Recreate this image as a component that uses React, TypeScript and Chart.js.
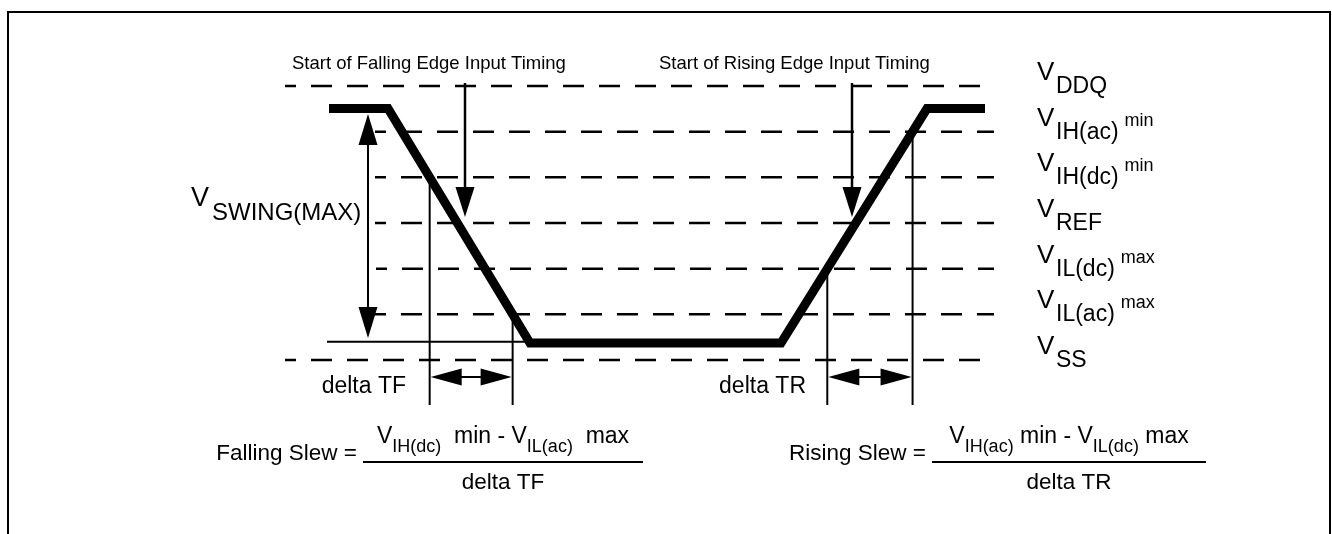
import React, { useEffect, useRef } from "react";
import { Chart, registerables } from "chart.js";

Chart.register(...registerables);

const FONT = '"Liberation Sans", Arial, Helvetica, sans-serif';

// ---------------- data (x: time units, y: voltage level index) ----------------
const levelValues = [6, 5, 4, 3, 2, 1, 0];
const levelMain = ["V", "V", "V", "V", "V", "V", "V"];
const levelSub = ["DDQ", "IH(ac)", "IH(dc)", "REF", "IL(dc)", "IL(ac)", "SS"];
const levelSuffix = ["", "min", "min", "", "max", "max", ""];
const levelStartTime = [28.5, 37.5, 37.5, 37.5, 37.6, 37.5, 28.5];
const levelEndTime = [99.4, 99.4, 99.4, 99.4, 99.4, 99.4, 99.4];

const signalTime = [32.9, 38.8, 53.0, 78.1, 92.7, 98.5];
const signalLevel = [5.507, 5.507, 0.372, 0.372, 5.507, 5.507];

const swingTime = 36.8;
const swingTop = 5.387;
const swingBottom = 0.482;
const swingRefLevel = 0.4;
const swingRefStart = 32.7;

const inputTimingTimes = [46.5, 85.2];
const inputTimingTop = 6.066;
const inputTimingTip = 3.131;
const inputTimingLabels = ["Start of Falling Edge Input Timing", "Start of Rising Edge Input Timing"];
const inputTimingLabelTime = [29.2, 65.9];
const inputTimingLabelLevel = 6.372;

const timingBottom = -0.985;
const deltaArrowLevel = -0.372;
const deltaLabels = ["delta TF", "delta TR"];
const deltaLabelRight = [40.6, 80.6];
const deltaLabelLevel = -0.723;

const formulaLabels = ["Falling Slew =", "Rising Slew ="];
const formulaLabelRight = [35.7, 92.6];
const formulaLineStart = [36.3, 93.2];
const formulaLineEnd = [64.3, 120.6];
const formulaLineLevel = -2.234;
const formulaNumerators = [
  [["V", 0], ["IH(dc)", 1], ["  min - V", 0], ["IL(ac)", 1], ["  max", 0]],
  [["V", 0], ["IH(ac)", 1], [" min - V", 0], ["IL(dc)", 1], [" max", 0]],
] as [string, number][][];
const formulaDenominators = ["delta TF", "delta TR"];

function crossTime(i0: number, level: number) {
  const t0 = signalTime[i0], t1 = signalTime[i0 + 1];
  const v0 = signalLevel[i0], v1 = signalLevel[i0 + 1];
  return t0 + ((level - v0) / (v1 - v0)) * (t1 - t0);
}

function head(ctx: CanvasRenderingContext2D, tx: number, ty: number, dx: number, dy: number, len: number, wid: number) {
  const bx = tx - dx * len, by = ty - dy * len;
  const px = -dy, py = dx;
  ctx.beginPath();
  ctx.moveTo(tx, ty);
  ctx.lineTo(bx + (px * wid) / 2, by + (py * wid) / 2);
  ctx.lineTo(bx - (px * wid) / 2, by - (py * wid) / 2);
  ctx.closePath();
  ctx.fill();
}

function seg(ctx: CanvasRenderingContext2D, x1: number, y1: number, x2: number, y2: number, w: number) {
  ctx.lineWidth = w;
  ctx.beginPath();
  ctx.moveTo(x1, y1);
  ctx.lineTo(x2, y2);
  ctx.stroke();
}

const annotations = {
  id: "annotations",
  afterDatasetsDraw(chart: any) {
    const ctx: CanvasRenderingContext2D = chart.ctx;
    const X = (t: number) => chart.scales.x.getPixelForValue(t);
    const Y = (v: number) => chart.scales.y.getPixelForValue(v);
    ctx.save();
    ctx.fillStyle = "#000";
    ctx.strokeStyle = "#000";
    ctx.lineCap = "butt";
    ctx.textBaseline = "alphabetic";

    // frame
    ctx.lineWidth = 2;
    ctx.beginPath();
    ctx.moveTo(8, chart.height);
    ctx.lineTo(8, 12);
    ctx.lineTo(chart.width - 2, 12);
    ctx.lineTo(chart.width - 2, chart.height);
    ctx.stroke();

    // VSWING arrow
    const sx = X(swingTime);
    seg(ctx, sx, Y(swingTop) + 20, sx, Y(swingBottom) - 20, 2);
    head(ctx, sx, Y(swingTop), 0, -1, 31, 19);
    head(ctx, sx, Y(swingBottom), 0, 1, 31, 19);
    seg(ctx, X(swingRefStart), Y(swingRefLevel), X(signalTime[2]), Y(swingRefLevel), 2);

    // input timing arrows
    inputTimingTimes.forEach((t) => {
      const x = X(t);
      seg(ctx, x, Y(inputTimingTop), x, Y(inputTimingTip) - 20, 2.5);
      head(ctx, x, Y(inputTimingTip), 0, 1, 30, 19);
    });

    // timing verticals + delta arrows
    const pairs = [
      [[1, 4], [1, 1]],
      [[3, 2], [3, 5]],
    ];
    pairs.forEach((p) => {
      const xa = X(crossTime(p[0][0], p[0][1]));
      const xb = X(crossTime(p[1][0], p[1][1]));
      seg(ctx, xa, Y(p[0][1]), xa, Y(timingBottom), 2);
      seg(ctx, xb, Y(p[1][1]), xb, Y(timingBottom), 2);
      const ay = Y(deltaArrowLevel);
      seg(ctx, xa + 20, ay, xb - 20, ay, 2);
      head(ctx, xa + 1, ay, -1, 0, 31, 17);
      head(ctx, xb - 1, ay, 1, 0, 31, 17);
    });

    // input timing labels
    ctx.font = `18.5px ${FONT}`;
    ctx.textAlign = "left";
    inputTimingLabels.forEach((s, i) => ctx.fillText(s, X(inputTimingLabelTime[i]), Y(inputTimingLabelLevel)));

    // level labels
    const lx = X(103.7);
    levelValues.forEach((v, i) => {
      const y = Y(v);
      ctx.textAlign = "left";
      ctx.font = `26px ${FONT}`;
      ctx.fillText(levelMain[i], lx, y - 6);
      const subX = lx + 19;
      ctx.font = `23px ${FONT}`;
      ctx.fillText(levelSub[i], subX, y + 7);
      const subEnd = subX + ctx.measureText(levelSub[i]).width;
      if (levelSuffix[i]) {
        ctx.font = `18px ${FONT}`;
        ctx.fillText(levelSuffix[i], subEnd + 6, y - 6);
      }
    });

    // VSWING label
    ctx.font = `27px ${FONT}`;
    ctx.fillText("V", X(19.1), Y(3.372));
    ctx.font = `24px ${FONT}`;
    ctx.fillText("SWING(MAX)", X(21.2), Y(3.066));

    // delta labels
    ctx.font = `23px ${FONT}`;
    ctx.textAlign = "right";
    deltaLabels.forEach((s, i) => ctx.fillText(s, X(deltaLabelRight[i]), Y(deltaLabelLevel)));

    // formulas
    formulaLabels.forEach((s, i) => {
      const fy = Y(formulaLineLevel);
      const x0 = X(formulaLineStart[i]);
      const x1 = X(formulaLineEnd[i]);
      ctx.font = `22.5px ${FONT}`;
      ctx.textAlign = "right";
      ctx.fillText(s, X(formulaLabelRight[i]), fy - 2);
      seg(ctx, x0, fy, x1, fy, 2);
      // numerator
      const parts = formulaNumerators[i];
      let w = 0;
      parts.forEach(([t, sub]) => {
        ctx.font = `${sub ? 18 : 23}px ${FONT}`;
        w += ctx.measureText(t).width;
      });
      let x = (x0 + x1) / 2 - w / 2;
      ctx.textAlign = "left";
      parts.forEach(([t, sub]) => {
        ctx.font = `${sub ? 18 : 23}px ${FONT}`;
        ctx.fillText(t, x, sub ? fy - 10 : fy - 19);
        x += ctx.measureText(t).width;
      });
      ctx.font = `22.5px ${FONT}`;
      ctx.textAlign = "center";
      ctx.fillText(formulaDenominators[i], (x0 + x1) / 2, fy + 27);
    });

    ctx.restore();
  },
};

export default function App() {
  const ref = useRef<HTMLCanvasElement | null>(null);
  useEffect(() => {
    if (!ref.current) return;
    const datasets: any[] = levelValues.map((v, i) => ({
      label: levelSub[i],
      data: [
        { x: levelStartTime[i], y: v },
        { x: levelEndTime[i], y: v },
      ],
      borderColor: "#000",
      borderWidth: 2.5,
      borderDash: [21, 15],
      borderDashOffset: 10,
      pointRadius: 0,
      tension: 0,
      fill: false,
    }));
    datasets.push({
      label: "signal",
      data: signalTime.map((t, i) => ({ x: t, y: signalLevel[i] })),
      borderColor: "#000",
      borderWidth: 9,
      borderJoinStyle: "miter",
      borderCapStyle: "butt",
      pointRadius: 0,
      tension: 0,
      fill: false,
    });
    const chart = new Chart(ref.current, {
      type: "line",
      data: { datasets },
      options: {
        animation: false,
        responsive: false,
        maintainAspectRatio: false,
        devicePixelRatio: 1,
        layout: { padding: 0 },
        events: [],
        scales: {
          x: { type: "linear", min: 0, max: 133.2, display: false },
          y: { type: "linear", min: -3.81, max: 7.883, display: false },
        },
        plugins: { legend: { display: false }, tooltip: { enabled: false }, title: { display: false } },
      },
      plugins: [annotations],
    } as any);
    return () => chart.destroy();
  }, []);
  return (
    <div style={{ position: "fixed", left: 0, top: 0, width: 1332, height: 534, background: "#fff" }}>
      <canvas ref={ref} width={1332} height={534} style={{ display: "block", width: 1332, height: 534 }} />
    </div>
  );
}
